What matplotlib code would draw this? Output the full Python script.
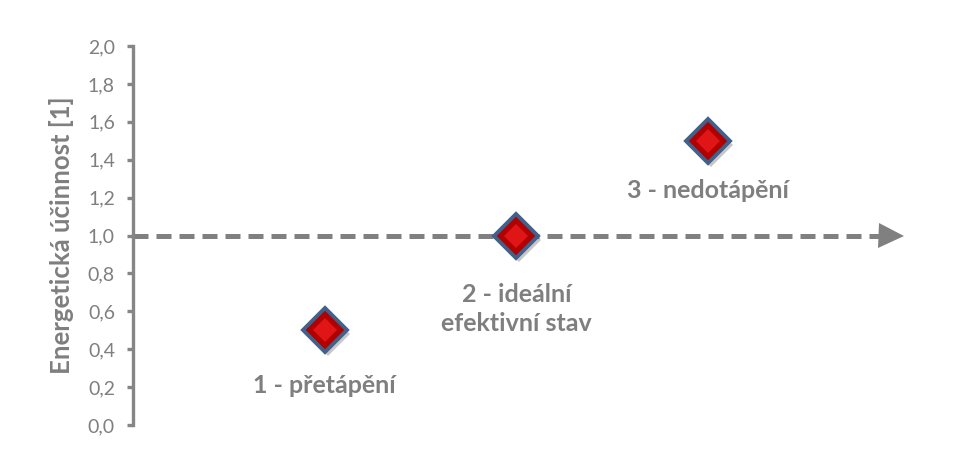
import matplotlib
matplotlib.use("Agg")
import matplotlib.pyplot as plt
from matplotlib import transforms

# ---- data ----
x_vals = [1, 2, 3]
y_vals = [0.5, 1.0, 1.5]
point_labels = ["1 - přetápění", "2 - ideální\nefektivní stav", "3 - nedotápění"]
y_ticks = [0.0, 0.2, 0.4, 0.6, 0.8, 1.0, 1.2, 1.4, 1.6, 1.8, 2.0]
y_tick_labels = ["0,0", "0,2", "0,4", "0,6", "0,8", "1,0", "1,2", "1,4", "1,6", "1,8", "2,0"]
ref_level = 1.0
y_label = "Energetická účinnost [1]"

FAM = ["Lato", "DejaVu Sans"]
GRAY = "#7f7f7f"
AX_GRAY = "#868686"

fig = plt.figure(figsize=(9.59, 4.66), dpi=100)
ax = fig.add_axes([133 / 959, 41 / 466, 805 / 959, 379 / 466])
ax.set_xlim(0, 4.2)
ax.set_ylim(0, 2.0)

for s in ["top", "right", "bottom"]:
    ax.spines[s].set_visible(False)
ax.spines["left"].set_color(AX_GRAY)
ax.spines["left"].set_linewidth(2.4)
ax.set_xticks([])
ax.set_yticks(y_ticks)
ax.set_yticklabels(y_tick_labels, family=FAM, fontsize=14, color=GRAY)
ax.tick_params(axis="y", direction="out", length=4, width=2.4, color=AX_GRAY, pad=9)
ax.set_ylabel(y_label, family=FAM, fontsize=18.5, fontweight="bold", color=GRAY, labelpad=10)

# dashed reference line with arrow head
ax.plot([0, 3.9], [ref_level, ref_level], color="#808080", lw=3.6,
        dashes=(3.0, 1.6), solid_capstyle="butt", dash_capstyle="butt", zorder=2, clip_on=False)
ax.plot([3.955], [ref_level], marker=">", markersize=18, color="#808080",
        markeredgewidth=0, zorder=2, clip_on=False)

# markers: shadow, body, highlight
shadow_tr = transforms.offset_copy(ax.transData, fig=fig, x=3, y=-4, units="dots")
ax.plot(x_vals, y_vals, linestyle="none", marker="D", markersize=22, color="#000000",
        alpha=0.22, markeredgewidth=0, transform=shadow_tr, zorder=3)
ax.plot(x_vals, y_vals, linestyle="none", marker="D", markersize=22,
        markerfacecolor="#b00000", markeredgecolor="#41618a", markeredgewidth=2.8, zorder=4)
ax.plot(x_vals, y_vals, linestyle="none", marker="D", markersize=12,
        markerfacecolor="#e01515", markeredgewidth=0, zorder=5)

offsets = [-40, -53, -36]
for x, y, lab, off in zip(x_vals, y_vals, point_labels, offsets):
    ax.annotate(lab, xy=(x, y), xytext=(0, off), textcoords="offset points",
                ha="center", va="center", family=FAM, fontsize=18, fontweight="bold",
                color=GRAY, linespacing=1.3)

fig.savefig("out.png", dpi=100)
